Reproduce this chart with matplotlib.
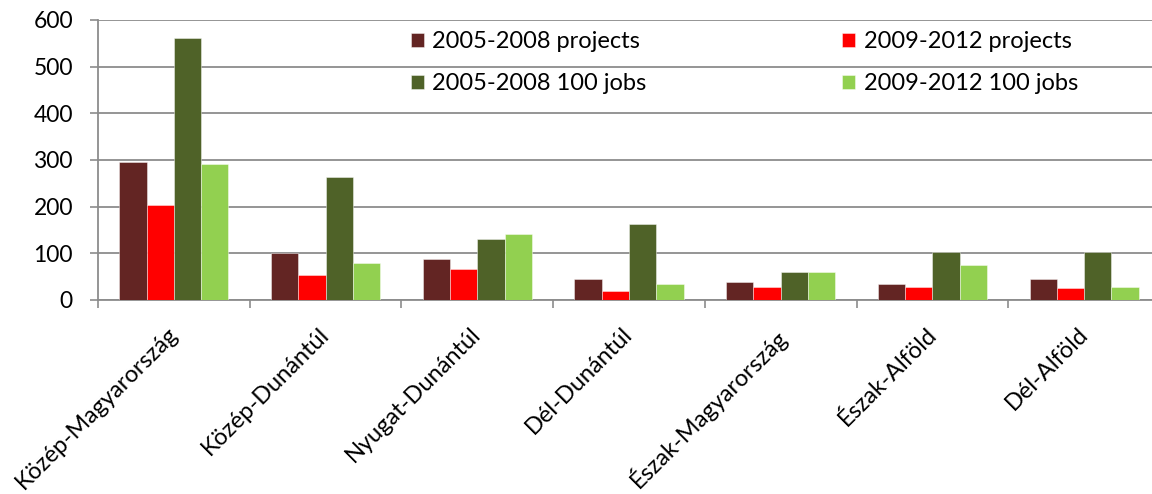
import numpy as np
import matplotlib.pyplot as plt
from matplotlib.ticker import FixedLocator
from matplotlib.transforms import ScaledTranslation

plt.rcParams['font.family'] = ['Lato', 'DejaVu Sans']

regions = ['Közép-Magyarország', 'Közép-Dunántúl', 'Nyugat-Dunántúl', 'Dél-Dunántúl',
           'Észak-Magyarország', 'Észak-Alföld', 'Dél-Alföld']

projects_0508 = [295, 100, 87, 44, 39, 35, 44]
projects_0912 = [204, 54, 66, 20, 27, 27, 25]
jobs_0508 = [561, 264, 130, 162, 61, 103, 102]
jobs_0912 = [291, 79, 141, 34, 59, 76, 28]

series = [
    ('2005-2008 projects', projects_0508, '#632523'),
    ('2009-2012 projects', projects_0912, '#ff0000'),
    ('2005-2008 100 jobs', jobs_0508, '#4f6228'),
    ('2009-2012 100 jobs', jobs_0912, '#92d050'),
]

fig = plt.figure(figsize=(11.52, 4.94), dpi=100)
ax = fig.add_axes([98 / 1152, 1 - 300 / 494, 1062 / 1152, 280 / 494])

x = np.arange(len(regions))
width = 0.18
bars = []
for i, (name, vals, color) in enumerate(series):
    b = ax.bar(x + (i - 1.5) * width, vals, width, color=color, label=name,
               edgecolor=(1, 1, 1, 0.5), linewidth=0.6, zorder=3)
    bars.append(b)

ax.set_xlim(-0.5, len(regions) - 0.5)
ax.set_ylim(0, 600)
ax.set_yticks(range(0, 601, 100))
ax.yaxis.grid(True, color='#8c8c8c', linewidth=1.3, zorder=0)
ax.set_axisbelow(True)

for side in ['top', 'right']:
    ax.spines[side].set_visible(False)
for side in ['left', 'bottom']:
    ax.spines[side].set_color('#8c8c8c')
    ax.spines[side].set_linewidth(1.3)

ax.tick_params(axis='y', length=6, width=1.2, color='#8c8c8c', pad=12,
               labelsize=16.5, labelcolor='black')

# category labels at centers, tick marks at category boundaries
ax.set_xticks(x)
ax.set_xticklabels(regions, rotation=45, ha='right', va='top',
                   rotation_mode='anchor', fontsize=17)
ax.tick_params(axis='x', which='major', length=0, pad=17)
shift = ScaledTranslation(-0.07, 0, fig.dpi_scale_trans)
for lbl in ax.get_xticklabels():
    lbl.set_transform(lbl.get_transform() + shift)
ax.xaxis.set_minor_locator(FixedLocator(np.arange(-0.5, len(regions), 1)))
ax.tick_params(axis='x', which='minor', length=6, width=1.2, color='#8c8c8c')

order = [0, 2, 1, 3]
ax.legend([bars[i] for i in order], [series[i][0] for i in order],
          ncol=2, frameon=False, fontsize=17,
          loc='upper left', bbox_to_anchor=(411 / 1152, 1 - 31 / 494),
          bbox_transform=fig.transFigure, borderpad=0, borderaxespad=0,
          handlelength=0.55, handleheight=0.55, handletextpad=0.35,
          labelspacing=0.9, columnspacing=8.3)

fig.savefig('out.png', dpi=100)
